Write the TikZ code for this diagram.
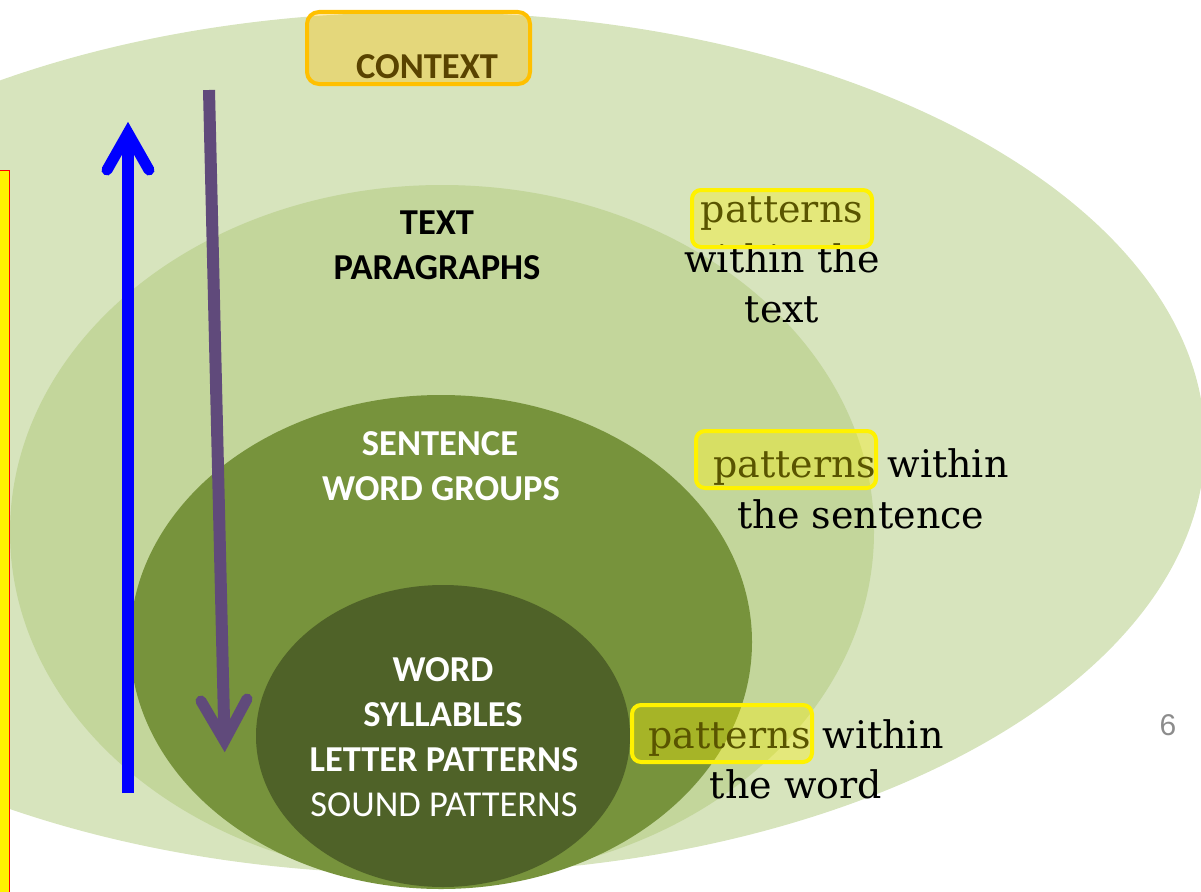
\documentclass[tikz,border=0pt]{standalone}
\usepackage{fontspec}
\newfontfamily\calib{Carlito}
\newfontfamily\slab{DejaVu Serif}
\newfontfamily\arialf{Liberation Sans}
\definecolor{cA}{HTML}{D7E4BD}
\definecolor{cB}{HTML}{C3D69B}
\definecolor{cC}{HTML}{77933C}
\definecolor{cD}{HTML}{4F6228}
\definecolor{gold}{HTML}{FFC000}
\definecolor{purp}{HTML}{604A7B}
\definecolor{pgnum}{HTML}{8C8C8C}
\begin{document}
\begin{tikzpicture}[x=1pt,y=-1pt,
  lab/.style={font=\calib\bfseries\fontsize{36.5}{44}\selectfont, anchor=base, inner sep=0pt, text=black},
  labw/.style={lab, text=white},
  side/.style={font=\slab\fontsize{38}{50}\selectfont, anchor=base, inner sep=0pt, text=black},
  hlbox/.style={draw=yellow, line width=4pt, fill=yellow, fill opacity=0.35, rounded corners=9pt,
    inner sep=0pt, minimum width=180pt, minimum height=57pt},
  ctxbox/.style={draw=gold, line width=4pt, fill=gold, fill opacity=0.35, rounded corners=12pt,
    inner sep=0pt, minimum width=223pt, minimum height=72pt},
  shaft/.style={line width=12pt, line cap=butt},
  chevron/.style={line width=11pt, line cap=round, line join=miter}]
\useasboundingbox (0,0) rectangle (1201,891);
\clip (0,0) rectangle (1201,891);
% nested ellipses
\fill[cA] (423,443) ellipse [x radius=782pt, y radius=431pt];
\fill[cB] (442,532) ellipse [x radius=432pt, y radius=347pt];
\fill[cC] (441,642) ellipse [x radius=311pt, y radius=247pt];
\fill[cD] (443,736) ellipse [x radius=187pt, y radius=151pt];
% left strip
\draw[red, fill=yellow, line width=1pt] (-5,170) rectangle (9.5,900);
% arrows
\coordinate (bstart) at (128,793);
\coordinate (btip) at (128,133);
\coordinate (bl) at (107,170);
\coordinate (br) at (149,170);
\draw[blue, shaft] (bstart) -- (btip);
\draw[blue, chevron] (bl) -- (btip) -- (br);
\coordinate (pstart) at (209,90);
\coordinate (ptip) at (224.5,741);
\coordinate (pl) at (201,701);
\coordinate (pr) at (247,699);
\draw[purp, shaft] (pstart) -- (ptip);
\draw[purp, chevron] (pl) -- (ptip) -- (pr);
% context
\node[lab] (ctxt) at (427,78) {CONTEXT};
\node[ctxbox] (ctxb) at (418.5,48) {};
% ellipse labels
\node[lab] (t1) at (437,234) {TEXT};
\node[lab] (t2) at (437,279) {PARAGRAPHS};
\node[labw] (s1) at (440,455) {SENTENCE};
\node[labw] (s2) at (441,500) {WORD GROUPS};
\node[labw] (w1) at (443,681) {WORD};
\node[labw] (w2) at (443,726) {SYLLABLES};
\node[labw] (w3) at (444,771) {LETTER PATTERNS};
\node[labw, font=\calib\mdseries\fontsize{36.5}{44}\selectfont] (w4) at (444,816) {SOUND PATTERNS};
% side texts
\node[side] (a1) at (782,222) {patterns};
\node[side] (a2) at (782,272) {within the};
\node[side] (a3) at (782,322) {text};
\node[hlbox] (h1) at (782,218.5) {};
\node[side] (b1) at (861,477) {patterns within};
\node[side] (b2) at (861,528) {the sentence};
\node[hlbox] (h2) at (786,459.5) {};
\node[side] (c1) at (796,748) {patterns within};
\node[side] (c2) at (796,798) {the word};
\node[hlbox] (h3) at (722,733.5) {};
% page number
\node[font=\arialf\fontsize{30}{36}\selectfont, text=pgnum, anchor=base, inner sep=0pt] (pn) at (1168,735) {6};
\end{tikzpicture}
\end{document}
